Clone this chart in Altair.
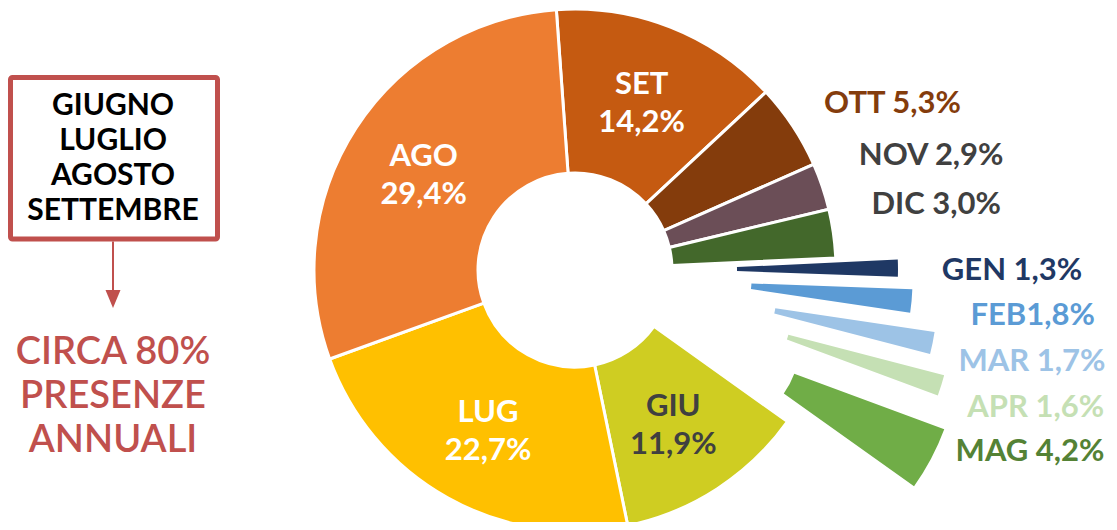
import math
import altair as alt
import pandas as pd

# ---------------- data ----------------
months = ["SET", "OTT", "NOV", "DIC", "GEN", "FEB", "MAR", "APR", "MAG", "GIU", "LUG", "AGO"]
shares = [14.2, 5.3, 2.9, 3.0, 1.3, 1.8, 1.7, 1.6, 4.2, 11.9, 22.7, 29.4]
labels = ["SET\n14,2%", "OTT 5,3%", "NOV 2,9%", "DIC 3,0%", "GEN 1,3%", "FEB1,8%",
          "MAR 1,7%", "APR 1,6%", "MAG 4,2%", "GIU\n11,9%", "LUG\n22,7%", "AGO\n29,4%"]
slice_colors = ["#C55A11", "#843C0C", "#6B4E57", "#43682B", "#1F3864", "#5B9BD5",
                "#9DC3E6", "#C5E0B4", "#70AD47", "#CFCD22", "#FFC000", "#ED7D31"]
label_colors = ["#FFFFFF", "#843C0C", "#404040", "#404040", "#1F3864", "#5B9BD5",
                "#9DC3E6", "#C5E0B4", "#548235", "#404040", "#FFFFFF", "#FFFFFF"]

box_lines = "GIUGNO\nLUGLIO\nAGOSTO\nSETTEMBRE"
note_lines = "CIRCA 80%\nPRESENZE\nANNUALI"

# ---------------- layout / style ----------------
W, H = 1101, 514
CX, CY = 567, 262            # donut centre (plot coords)
START = math.radians(-4.1)   # angle where the first slice starts
R_OUT, R_IN = 261, 97
RED = "#C0504D"
FONT = "Lato"
LABEL_SIZE = 31
LABEL_LH = 38

# exploded slices: (shift, inner radius, outer radius)
explode = {"GEN": (113, 49, 210), "FEB": (128, 49, 210), "MAR": (155, 49, 210),
           "APR": (174, 49, 210), "MAG": (158, 85, 245)}
# label placement: (angle nudge in degrees, distance from centre)
label_place = {"SET": (0.4, 179), "OTT": (5.9, 358), "NOV": (0.9, 374), "DIC": (-2.1, 367),
               "GEN": (0.45, 437), "FEB": (0.5, 460), "MAR": (-0.2, 466), "APR": (-0.8, 481),
               "MAG": (-6.15, 490), "GIU": (0.8, 184), "LUG": (-1.0, 184), "AGO": (-1.2, 178)}

df = pd.DataFrame({
    "month": months,
    "share": shares,
    "label": labels,
    "lcolor": label_colors,
    "order": list(range(len(months))),
})
df["shift"] = [explode.get(m, (0, R_IN, R_OUT))[0] for m in months]
df["rin"] = [explode.get(m, (0, R_IN, R_OUT))[1] for m in months]
df["rout"] = [explode.get(m, (0, R_IN, R_OUT))[2] for m in months]
df["nudge"] = [label_place[m][0] for m in months]
df["lr"] = [label_place[m][1] for m in months]

theta_scale = alt.Scale(domain=[0, 100], range=[START, START + 2 * math.pi])
color_enc = alt.Color("month:N", scale=alt.Scale(domain=months, range=slice_colors), legend=None)

base = alt.Chart(df).transform_joinaggregate(
    total="sum(share)"
).transform_window(
    cum="sum(share)", sort=[alt.SortField("order")], frame=[None, 0]
).transform_calculate(
    p1="100 * datum.cum / datum.total",
    p0="100 * (datum.cum - datum.share) / datum.total",
).transform_calculate(
    mid=f"{START} + 2 * PI * (datum.p0 + datum.p1) / 200"
)

main = base.transform_filter("datum.shift == 0").mark_arc(
    radius=R_OUT, radius2=R_IN, stroke="white", strokeWidth=3
).encode(
    theta=alt.Theta("p0:Q", scale=theta_scale, stack=None),
    theta2="p1:Q",
    color=color_enc,
    x=alt.value(CX),
    y=alt.value(CY),
)

exploded = base.transform_filter("datum.shift > 0").transform_calculate(
    cx=f"{CX} + datum.shift * sin(datum.mid)",
    cy=f"{CY} - datum.shift * cos(datum.mid)",
).mark_arc().encode(
    theta=alt.Theta("p0:Q", scale=theta_scale, stack=None),
    theta2="p1:Q",
    radius=alt.Radius("rout:Q", scale=None),
    radius2="rin:Q",
    color=color_enc,
    x=alt.X("cx:Q", scale=None, axis=None),
    y=alt.Y("cy:Q", scale=None, axis=None),
)

texts = base.transform_calculate(
    la="datum.mid + datum.nudge * PI / 180",
    nl="length(split(datum.label, '\\n'))",
).transform_calculate(
    lx=f"{CX} + datum.lr * sin(datum.la)",
    ly=f"{CY} - datum.lr * cos(datum.la) - (datum.nl - 1) * {LABEL_LH} / 2",
).mark_text(
    font=FONT, fontSize=LABEL_SIZE, fontWeight="bold", lineBreak="\n", lineHeight=LABEL_LH,
    align="center", baseline="middle"
).encode(
    x=alt.X("lx:Q", scale=None, axis=None),
    y=alt.Y("ly:Q", scale=None, axis=None),
    text="label:N",
    color=alt.Color("lcolor:N", scale=None),
)

one = alt.Chart(pd.DataFrame({"k": [0]}))

box = one.mark_rect(fill="white", stroke=RED, strokeWidth=5, cornerRadius=2).encode(
    x=alt.value(2.5), x2=alt.value(209.5), y=alt.value(69.5), y2=alt.value(231)
)
box_text = one.mark_text(
    font=FONT, fontSize=30, fontWeight="bold", lineBreak="\n", lineHeight=35,
    align="center", baseline="middle", color="#000000"
).encode(x=alt.value(105), y=alt.value(97.5), text=alt.value(box_lines))

arrow_line = one.mark_rule(stroke=RED, strokeWidth=2).encode(
    x=alt.value(105), y=alt.value(233.5), y2=alt.value(284)
)
arrow_head = one.mark_point(
    shape="M-1,-1.2L1,-1.2L0,1.2Z", filled=True, fill=RED, stroke=None, opacity=1, size=225
).encode(x=alt.value(105), y=alt.value(291))

note = one.mark_text(
    font=FONT, fontSize=38, fontWeight=600, lineBreak="\n", lineHeight=44,
    align="center", baseline="middle", color=RED
).encode(x=alt.value(105), y=alt.value(344.5), text=alt.value(note_lines))

chart = alt.layer(
    main, exploded, texts, box, box_text, arrow_line, arrow_head, note
).resolve_scale(color="independent").properties(
    width=W, height=H, padding=0, autosize="none", background="white"
).configure_view(stroke=None)

chart.save("out.html", embed_options={"renderer": "svg", "actions": False})
